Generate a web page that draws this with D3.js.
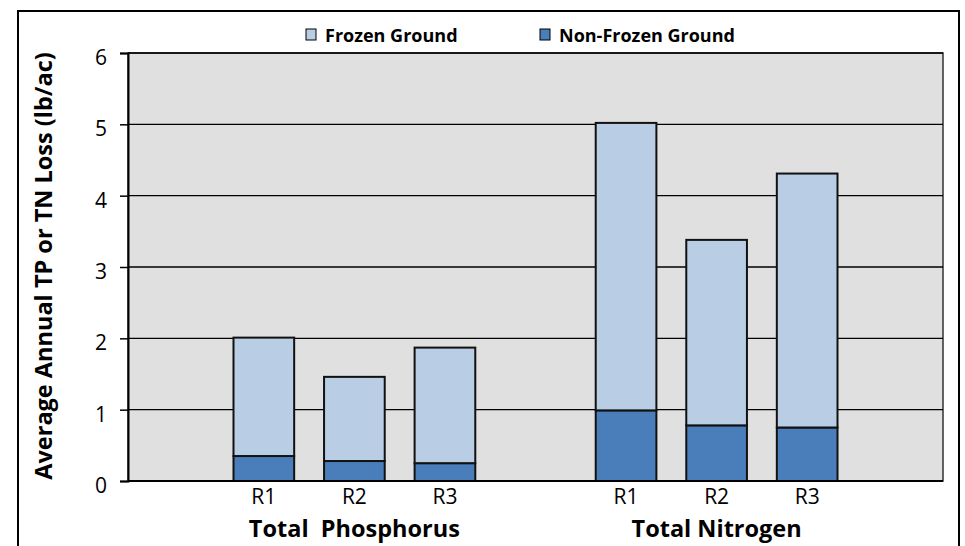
<!DOCTYPE html>
<html><head><meta charset="utf-8">
<script src="https://cdn.jsdelivr.net/npm/d3@7"></script>
<style>body{margin:0;background:#fff;} svg{display:block;font-family:"Open Sans",sans-serif;}</style>
</head><body>
<svg id="c" width="965" height="546"></svg>
<script>
const slots = ["s0","P-R1","P-R2","P-R3","s4","N-R1","N-R2","N-R3","s8"];
const barSlots = ["P-R1","P-R2","P-R3","N-R1","N-R2","N-R3"];
const tickLabels = ["R1","R2","R3","R1","R2","R3"];
const nonFrozen = [0.35,0.28,0.25,0.99,0.78,0.75];
const frozen = [1.66,1.18,1.62,4.03,2.60,3.56];
const groups = ["Total  Phosphorus","Total Nitrogen"];
const groupSlots = [["P-R1","P-R3"],["N-R1","N-R3"]];
const seriesNames = ["Frozen Ground","Non-Frozen Ground"];
const colors = {"Frozen Ground":"#b9cde5","Non-Frozen Ground":"#4a7ebb"};
const yTicks = [0,1,2,3,4,5,6];

const FF = "'Open Sans',sans-serif";
const svg = d3.select("#c");
const L=128,R=943,T=53,B=481;
const x = d3.scaleBand().domain(slots).range([L,R]).paddingInner(0.33).paddingOuter(0.165);
const y = d3.scaleLinear().domain([0,6]).range([B,T]);

svg.append("rect").attr("x",18).attr("y",11).attr("width",941).attr("height",560)
  .attr("fill","#fff").attr("stroke","#000").attr("stroke-width",2);
svg.append("rect").attr("x",L).attr("y",T).attr("width",R-L).attr("height",B-T)
  .attr("fill","#e0e0e0").attr("stroke","#333").attr("stroke-width",1.5);
svg.append("g").selectAll("line").data(yTicks.filter(d=>d>0)).join("line")
  .attr("x1",L).attr("x2",R).attr("y1",d=>y(d)).attr("y2",d=>y(d))
  .attr("stroke","#000").attr("stroke-width",1.3);

const rows = barSlots.map((s,i)=>({slot:s,"Non-Frozen Ground":nonFrozen[i],"Frozen Ground":frozen[i]}));
const stack = d3.stack().keys(["Non-Frozen Ground","Frozen Ground"])(rows);
svg.append("g").selectAll("g").data(stack).join("g")
  .attr("fill",d=>colors[d.key])
  .selectAll("rect").data(d=>d).join("rect")
  .attr("x",d=>x(d.data.slot)).attr("width",x.bandwidth())
  .attr("y",d=>y(d[1])).attr("height",d=>y(d[0])-y(d[1]))
  .attr("stroke","#111").attr("stroke-width",2);

const ya = svg.append("g").attr("transform",`translate(${L},0)`)
  .call(d3.axisLeft(y).tickValues(yTicks).tickFormat(d3.format("d")).tickSize(8).tickPadding(13));
ya.select(".domain").attr("stroke","#000").attr("stroke-width",2);
ya.selectAll(".tick line").attr("stroke","#000").attr("stroke-width",1.5);
ya.selectAll("text").attr("font-size",21).attr("fill","#000").attr("font-family",FF).attr("dy","0.55em");
svg.append("line").attr("x1",L).attr("x2",R).attr("y1",B).attr("y2",B).attr("stroke","#000").attr("stroke-width",2);

const xa = svg.append("g").attr("transform",`translate(0,${B})`)
  .call(d3.axisBottom(x).tickValues(barSlots).tickFormat((d,i)=>tickLabels[i]).tickSize(0).tickPadding(8));
xa.select(".domain").remove();
xa.selectAll("text").attr("font-size",21).attr("fill","#000").attr("font-family",FF)
  .attr("dy",null).attr("y",23);

svg.append("g").selectAll("text").data(groups).join("text")
  .attr("x",(d,i)=>(x(groupSlots[i][0])+x(groupSlots[i][1])+x.bandwidth())/2)
  .attr("y",537).attr("text-anchor","middle").attr("font-size",23.5).attr("font-weight","bold")
  .attr("xml:space","preserve").style("white-space","pre").text(d=>d);

svg.append("text").attr("transform","translate(52,266) rotate(-90)")
  .attr("text-anchor","middle").attr("font-size",23.5).attr("font-weight","bold")
  .text("Average Annual TP or TN Loss (lb/ac)");

const legX = [306,540];
const lg = svg.append("g").selectAll("g").data(seriesNames).join("g")
  .attr("transform",(d,i)=>`translate(${legX[i]},29)`);
lg.append("rect").attr("width",10).attr("height",11).attr("fill",d=>colors[d]).attr("stroke","#000").attr("stroke-width",1);
lg.append("text").attr("x",19).attr("y",13).attr("font-size",18).attr("font-weight","bold").text(d=>d);
</script>
</body></html>
